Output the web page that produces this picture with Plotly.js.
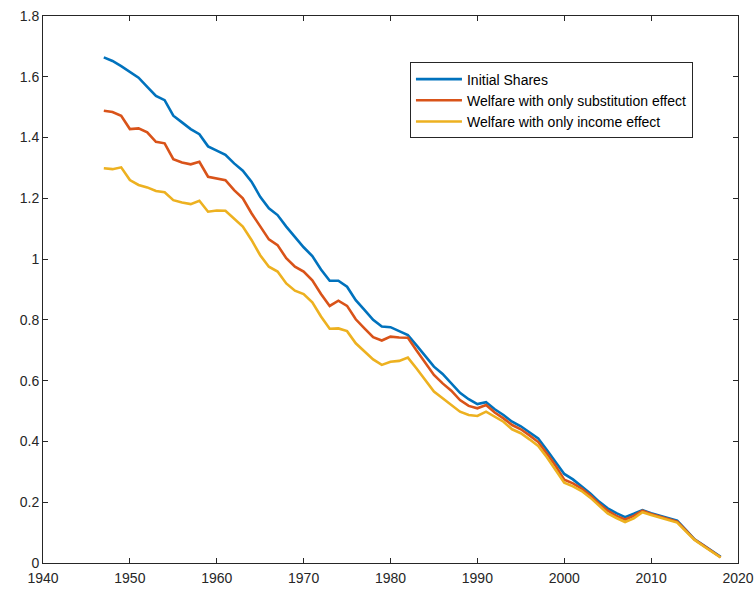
<!DOCTYPE html>
<html>
<head>
<meta charset="utf-8">
<script src="https://cdn.plot.ly/plotly-3.0.1.min.js"></script>
<style>html,body{margin:0;padding:0;background:#fff;}#chart{width:756px;height:591px;}</style>
</head>
<body>
<div id="chart"></div>
<script>
const years = [];
for (let y = 1947; y <= 2018; y++) years.push(y);

const initialShares = [
1.664,1.652,1.635,1.617,1.597,1.567,1.537,1.523,1.472,1.450,
1.428,1.411,1.371,1.357,1.343,1.315,1.291,1.255,1.205,1.167,
1.145,1.107,1.072,1.039,1.010,0.966,0.929,0.929,0.909,0.865,
0.833,0.800,0.778,0.776,0.763,0.750,0.716,0.680,0.646,0.622,
0.591,0.560,0.539,0.523,0.529,0.506,0.487,0.465,0.450,0.430,
0.410,0.372,0.333,0.293,0.275,0.253,0.229,0.202,0.180,0.164,
0.151,0.162,0.174,0.164,0.155,0.147,0.139,0.109,0.078,0.059,
0.039,0.020];

const substitutionOnly = [
1.488,1.484,1.472,1.428,1.430,1.417,1.386,1.381,1.329,1.318,
1.312,1.320,1.271,1.266,1.260,1.227,1.200,1.151,1.107,1.065,
1.046,1.003,0.975,0.959,0.930,0.885,0.846,0.863,0.846,0.802,
0.772,0.743,0.732,0.745,0.742,0.741,0.699,0.657,0.619,0.591,
0.567,0.536,0.517,0.509,0.520,0.495,0.476,0.454,0.440,0.420,
0.398,0.360,0.320,0.274,0.262,0.245,0.222,0.195,0.172,0.155,
0.143,0.155,0.172,0.161,0.152,0.145,0.136,0.107,0.077,0.058,
0.038,0.019];

const incomeOnly = [
1.299,1.296,1.302,1.260,1.244,1.236,1.224,1.220,1.194,1.186,
1.181,1.192,1.156,1.160,1.159,1.134,1.107,1.063,1.013,0.975,
0.959,0.920,0.896,0.885,0.858,0.811,0.771,0.772,0.763,0.723,
0.695,0.670,0.652,0.662,0.665,0.676,0.640,0.602,0.564,0.542,
0.520,0.498,0.487,0.484,0.498,0.482,0.465,0.440,0.427,0.407,
0.385,0.348,0.308,0.264,0.252,0.237,0.215,0.188,0.163,0.148,
0.135,0.147,0.167,0.158,0.149,0.142,0.133,0.104,0.076,0.056,
0.037,0.018];

const seriesNames = ["Initial Shares", "Welfare with only substitution effect", "Welfare with only income effect"];
const seriesColors = ["#0072BD", "#D95319", "#EDB120"];
const seriesData = [initialShares, substitutionOnly, incomeOnly];

const traces = seriesData.map((d, i) => ({
  x: years, y: d, type: "scatter", mode: "lines", name: seriesNames[i],
  line: {color: seriesColors[i], width: 2.6}
}));

const axisCommon = {
  showline: true, mirror: "ticks", linecolor: "#262626", linewidth: 1,
  ticks: "inside", ticklen: 5, tickcolor: "#262626", tickwidth: 1,
  showgrid: false, zeroline: false,
  tickfont: {family: "Liberation Sans, Arial, sans-serif", size: 14, color: "#262626"}
};

const layout = {
  width: 756, height: 591,
  margin: {l: 43, r: 18, t: 16, b: 28},
  paper_bgcolor: "#fff", plot_bgcolor: "#fff",
  showlegend: true,
  legend: {
    x: 0.528, y: 0.915, xanchor: "left", yanchor: "top",
    bgcolor: "#fff", bordercolor: "#262626", borderwidth: 1,
    font: {family: "Liberation Sans, Arial, sans-serif", size: 14, color: "#000"},
    itemwidth: 46, tracegroupgap: 0
  },
  xaxis: Object.assign({}, axisCommon, {range: [1940, 2020], ticklabelstandoff: 2, tickvals: [1940,1950,1960,1970,1980,1990,2000,2010,2020]}),
  yaxis: Object.assign({}, axisCommon, {range: [0, 1.8], tickvals: [0,0.2,0.4,0.6,0.8,1,1.2,1.4,1.6,1.8]})
};

Plotly.newPlot("chart", traces, layout, {displayModeBar: false, staticPlot: true});
</script>
</body>
</html>
